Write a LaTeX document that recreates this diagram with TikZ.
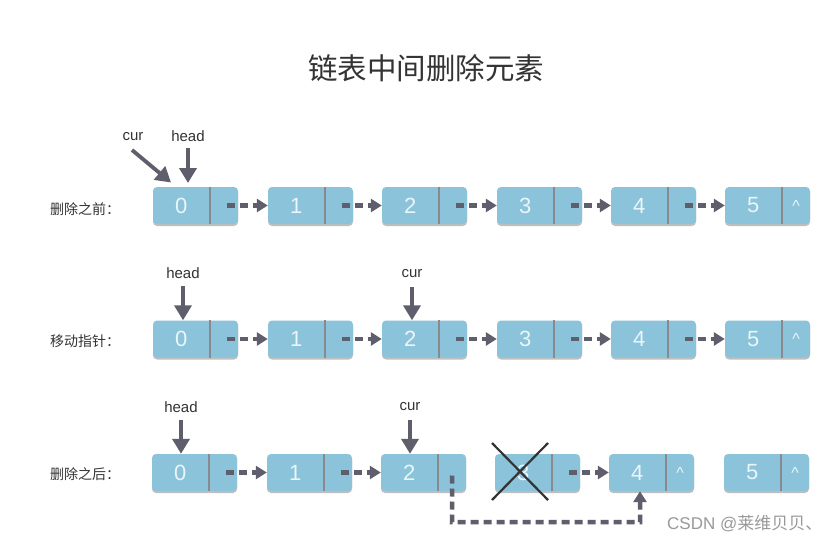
\documentclass[tikz,border=0pt]{standalone}
\usepackage{fontspec}
\setmainfont{Liberation Sans}
\newfontfamily\cjk{Noto Sans CJK SC}
\usetikzlibrary{arrows.meta,shadows}
\definecolor{boxfill}{HTML}{8BC3DA}
\definecolor{divcol}{HTML}{8A8A8E}
\definecolor{arrcol}{HTML}{5E5E6C}
\definecolor{txtcol}{HTML}{333333}
\definecolor{valcol}{HTML}{EAF5FA}
\tikzset{
  box/.style={draw=none, fill=boxfill, rounded corners=4pt, minimum width=85pt, minimum height=37pt, inner sep=0pt,
    drop shadow={shadow xshift=0pt, shadow yshift=-2pt, opacity=0.25, fill=black}},
  divider/.style={draw=divcol, line width=2pt},
  val/.style={text=valcol, font=\fontsize{22}{22}\selectfont, inner sep=0pt},
  nul/.style={text=valcol, font=\fontsize{16}{16}\selectfont, inner sep=0pt},
  dasharr/.style={draw=arrcol, line width=4.5pt, dash pattern=on 8pt off 5pt, -{Triangle[length=11pt,width=13pt]}},
  ptrarr/.style={draw=arrcol, line width=3.8pt, -{Triangle[length=15pt,width=17pt]}},
  ptrlbl/.style={text=txtcol, font=\fontsize{15}{15}\selectfont, inner sep=0pt},
  rowlbl/.style={text=txtcol, font=\cjk\fontsize{14}{14}\selectfont, inner sep=0pt, anchor=west},
  title/.style={text=txtcol, font=\cjk\fontsize{29.5}{29.5}\selectfont, inner sep=0pt},
  crossline/.style={draw=black!80, line width=2.2pt},
  wm/.style={text=black!40, font=\fontsize{17}{17}\selectfont, inner sep=0pt, anchor=west}
}
\newcommand\llnode[5]{%
  \node[box] (#1) at (#2,#3) {};
  \draw[divider] ([xshift=57pt]#1.north west) -- ([xshift=57pt]#1.south west);
  \node[val] (#1v) at ([xshift=28.5pt]#1.west) {#4};
  \node[nul] (#1p) at ([xshift=-14pt]#1.east) {#5};
}
\begin{document}
\begin{tikzpicture}[x=1pt,y=-1pt]
\useasboundingbox[fill=white] (0,0) rectangle (840,543);
\node[title] (title) at (426,68) {链表中间删除元素};

% Row 1
\node[rowlbl] (l1) at (50,209) {删除之前：};
\llnode{a0}{195.5}{205.5}{0}{}
\llnode{a1}{310.5}{205.5}{1}{}
\llnode{a2}{424.5}{205.5}{2}{}
\llnode{a3}{539.5}{205.5}{3}{}
\llnode{a4}{653.5}{205.5}{4}{}
\llnode{a5}{767.5}{205.5}{5}{\textasciicircum}
\foreach \s/\t in {a0/a1,a1/a2,a2/a3,a3/a4,a4/a5}{
  \draw[dasharr] ([xshift=-11pt]\s.east) -- (\t.west);
}
\node[ptrlbl] (c1) at (133,137) {cur};
\node[ptrlbl] (h1) at (188,136) {head};
\coordinate (c1s) at (132,150);
\coordinate (c1e) at (171,182.5);
\coordinate (h1s) at (188,148);
\coordinate (h1e) at (188,183);
\draw[ptrarr] (c1s) -- (c1e);
\draw[ptrarr] (h1s) -- (h1e);

% Row 2
\node[rowlbl] (l2) at (50,341) {移动指针：};
\llnode{b0}{195.5}{339}{0}{}
\llnode{b1}{310.5}{339}{1}{}
\llnode{b2}{424.5}{339}{2}{}
\llnode{b3}{539.5}{339}{3}{}
\llnode{b4}{653.5}{339}{4}{}
\llnode{b5}{767.5}{339}{5}{\textasciicircum}
\foreach \s/\t in {b0/b1,b1/b2,b2/b3,b3/b4,b4/b5}{
  \draw[dasharr] ([xshift=-11pt]\s.east) -- (\t.west);
}
\node[ptrlbl] (h2) at (183,273) {head};
\node[ptrlbl] (c2) at (412,274) {cur};
\coordinate (h2s) at (183,286);
\coordinate (c2s) at (412,287);
\draw[ptrarr] (h2s) -- ([xshift=-12.5pt]b0.north);
\draw[ptrarr] (c2s) -- ([xshift=-12.5pt]b2.north);

% Row 3
\node[rowlbl] (l3) at (50,474) {删除之后：};
\llnode{d0}{194.5}{472.5}{0}{}
\llnode{d1}{309.5}{472.5}{1}{}
\llnode{d2}{423.5}{472.5}{2}{}
\llnode{d3}{537.5}{472.5}{3}{}
\llnode{d4}{651.5}{472.5}{4}{\textasciicircum}
\llnode{d5}{766.5}{472.5}{5}{\textasciicircum}
\foreach \s/\t in {d0/d1,d1/d2,d3/d4}{
  \draw[dasharr] ([xshift=-11pt]\s.east) -- (\t.west);
}
\node[ptrlbl] (h3) at (181,407) {head};
\node[ptrlbl] (c3) at (410,407) {cur};
\coordinate (h3s) at (181,420);
\coordinate (c3s) at (410,420);
\draw[ptrarr] (h3s) -- ([xshift=-13.5pt]d0.north);
\draw[ptrarr] (c3s) -- ([xshift=-13.5pt]d2.north);
% cross over node 3
\coordinate (x1) at (492,443);
\coordinate (x2) at (548,500);
\coordinate (x3) at (548,443);
\coordinate (x4) at (492,500);
\draw[crossline] (x1) -- (x2);
\draw[crossline] (x3) -- (x4);
% bypass link
\coordinate (bp1) at (452,522);
\coordinate (bp2) at (640,522);
\draw[dasharr] ([xshift=-14pt,yshift=-3pt]d2.east) -- (bp1) -- (bp2) -- (d4.south -| bp2);

\node[wm] (wm) at (667,524) {CSDN @{\cjk 莱维贝贝、}};
\end{tikzpicture}
\end{document}
